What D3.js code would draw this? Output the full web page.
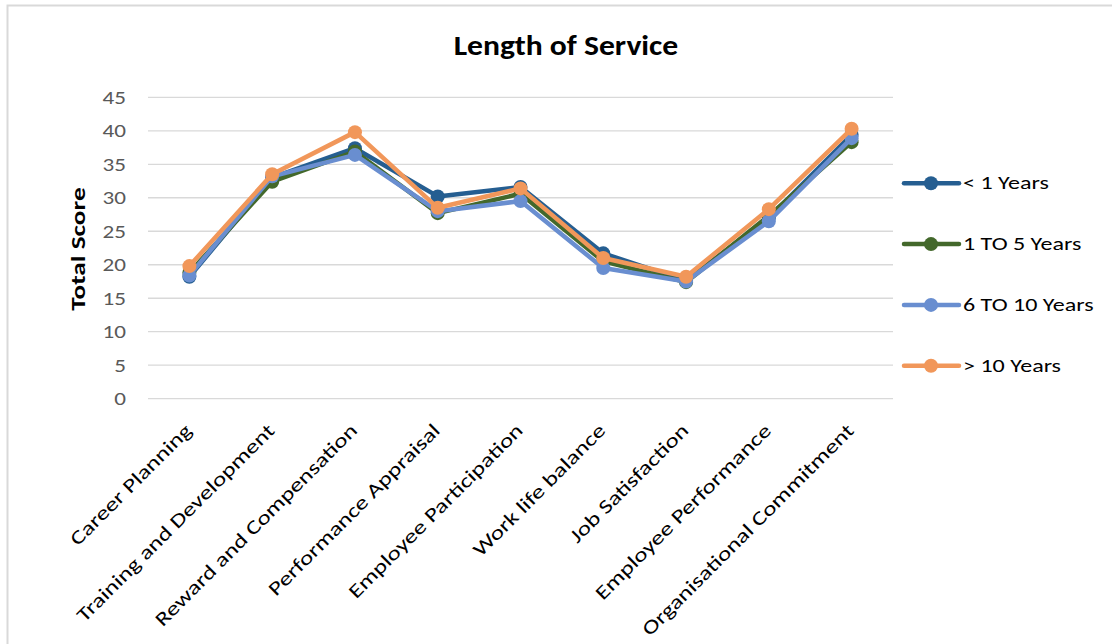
<!DOCTYPE html>
<html>
<head>
<meta charset="utf-8">
<script src="https://cdn.jsdelivr.net/npm/d3@7"></script>
<style>
  html, body { margin: 0; padding: 0; background: #fff; }
  svg { display: block; }
  text { font-family: Carlito, Lato, "Open Sans", sans-serif; }
</style>
</head>
<body>
<svg id="chart" width="1112" height="644"></svg>
<script>
// Dimension categories (x axis)
const categories = [
  "Career Planning", "Training and Development", "Reward and Compensation",
  "Performance Appraisal", "Employee Participation", "Work life balance",
  "Job Satisfaction", "Employee Performance", "Organisational Commitment"
];

// Series: total score by length of service
const seriesNames = ["< 1 Years", "1 TO 5 Years", "6 TO 10 Years", "> 10 Years"];
const lessThan1   = [18.2, 33.0, 37.4, 30.2, 31.6, 21.7, 17.6, 27.0, 39.4];
const oneToFive   = [18.8, 32.4, 36.9, 27.7, 30.6, 20.5, 17.4, 27.3, 38.3];
const sixToTen    = [18.4, 33.2, 36.4, 28.0, 29.5, 19.5, 17.5, 26.5, 38.9];
const moreThan10  = [19.8, 33.5, 39.8, 28.5, 31.4, 21.0, 18.2, 28.3, 40.3];
const seriesValues = [lessThan1, oneToFive, sixToTen, moreThan10];
const seriesColors = ["#255E91", "#43682B", "#698ED0", "#F1975A"];

const yTicks = [0, 5, 10, 15, 20, 25, 30, 35, 40, 45];

const FONT = "Carlito, Lato, 'Open Sans', sans-serif";
// horizontal widening of the glyphs, applied in each label's own frame
const WIDE = 1.25;

const svg = d3.select("#chart");

// Chart area border
svg.append("rect")
  .attr("x", 7.5).attr("y", 5.5)
  .attr("width", 1112).attr("height", 650)
  .attr("fill", "#fff").attr("stroke", "#d9d9d9").attr("stroke-width", 2);

const plot = { left: 148, right: 893, top: 97.3, bottom: 398.7 };

const x = d3.scalePoint().domain(categories)
  .range([plot.left, plot.right]).padding(0.5);
const y = d3.scaleLinear().domain([0, 45]).range([plot.bottom, plot.top]);

// Title
svg.append("text")
  .attr("transform", "translate(566,55) scale(1.13,1)")
  .attr("text-anchor", "middle")
  .attr("font-size", 28).attr("font-weight", "bold").attr("fill", "#000")
  .text("Length of Service");

// Horizontal gridlines
svg.append("g").selectAll("line").data(yTicks).join("line")
  .attr("x1", plot.left).attr("x2", plot.right)
  .attr("y1", d => y(d)).attr("y2", d => y(d))
  .attr("stroke", "#d9d9d9").attr("stroke-width", 1.3);

// Y axis tick labels
const yAxis = d3.axisLeft(y).tickValues(yTicks).tickSize(0).tickPadding(0);
const yg = svg.append("g").attr("transform", `translate(${plot.left},0)`).call(yAxis);
yg.select(".domain").remove();
yg.selectAll(".tick text")
  .attr("x", null).attr("dy", null)
  .attr("dominant-baseline", "central")
  .attr("transform", `translate(-22,0) scale(${WIDE},1)`)
  .attr("font-size", 18.5).attr("fill", "#595959")
  .style("font-family", FONT);

// Y axis title
svg.append("text")
  .attr("transform", `translate(85,249) rotate(-90) scale(1.3,1)`)
  .attr("text-anchor", "middle")
  .attr("font-size", 21).attr("font-weight", "bold").attr("fill", "#000")
  .text("Total Score");

// X axis category labels, rotated
const xAxis = d3.axisBottom(x).tickSize(0).tickPadding(0);
const xg = svg.append("g").attr("transform", `translate(0,${plot.bottom})`).call(xAxis);
xg.select(".domain").remove();
xg.selectAll(".tick text")
  .attr("font-size", 19.5).attr("fill", "#000")
  .style("font-family", FONT)
  .attr("text-anchor", "end")
  .attr("dy", null).attr("y", 0)
  .attr("transform", `translate(3,33) rotate(-45) scale(1.3,1)`);

// Lines and markers
const line = d3.line()
  .x((d, i) => x(categories[i]))
  .y(d => y(d));

seriesValues.forEach((vals, s) => {
  const g = svg.append("g");
  g.append("path")
    .datum(vals)
    .attr("d", line)
    .attr("fill", "none")
    .attr("stroke", seriesColors[s])
    .attr("stroke-width", 4.5)
    .attr("stroke-linejoin", "round");
  g.selectAll("circle").data(vals).join("circle")
    .attr("cx", (d, i) => x(categories[i]))
    .attr("cy", d => y(d))
    .attr("r", 7)
    .attr("fill", seriesColors[s]);
});

// Legend
const legendY = d3.scalePoint().domain(seriesNames).range([183.3, 365.7]);
const lg = svg.append("g").selectAll("g").data(seriesNames).join("g")
  .attr("transform", d => `translate(0,${legendY(d)})`);
lg.append("line")
  .attr("x1", 904).attr("x2", 959).attr("y1", 0).attr("y2", 0)
  .attr("stroke", (d, i) => seriesColors[i]).attr("stroke-width", 4.5)
  .attr("stroke-linecap", "round");
lg.append("circle")
  .attr("cx", 931).attr("cy", 0).attr("r", 7)
  .attr("fill", (d, i) => seriesColors[i]);
lg.append("text")
  .attr("transform", `translate(963,0) scale(1.3,1)`)
  .attr("dominant-baseline", "central")
  .attr("font-size", 18.5).attr("fill", "#000")
  .text(d => d);
</script>
</body>
</html>
